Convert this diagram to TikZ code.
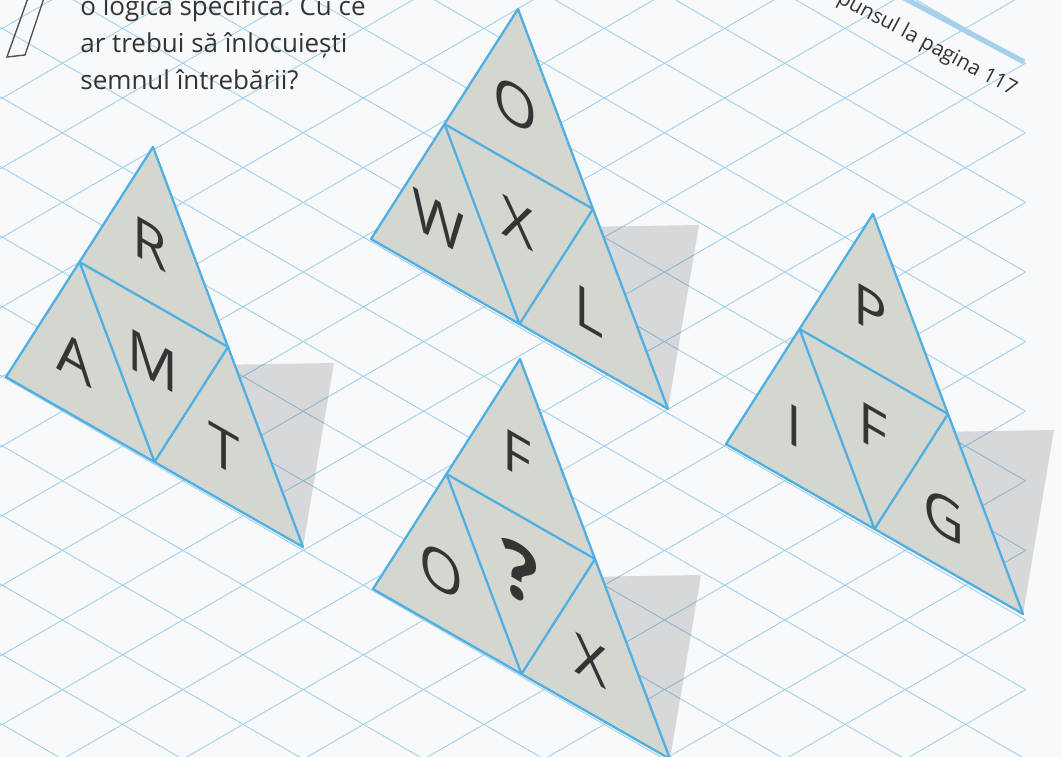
\documentclass[tikz,border=0pt]{standalone}
\usepackage{fontspec}
\setmainfont{Open Sans}
\usetikzlibrary{calc}
\definecolor{paper}{RGB}{248,249,251}
\definecolor{gridblue}{RGB}{160,208,236}
\definecolor{edgeblue}{RGB}{80,175,226}
\definecolor{cellgray}{RGB}{212,214,208}
\definecolor{inkgray}{RGB}{52,52,52}
\definecolor{bandblue}{RGB}{165,208,233}

\begin{document}
\begin{tikzpicture}[x=0.02cm, y=-0.02cm,
  gridline/.style={gridblue, line width=0.5pt},
  cell/.style={fill=cellgray, draw=edgeblue, line width=1.3pt, line join=round},
  cut/.style={edgeblue, line width=1.3pt, line join=round},
  shade/.style={fill=black, fill opacity=0.13},
  glyph/.style={text=inkgray, font=\fontsize{32}{32}\selectfont, yslant=-0.577, inner sep=0pt},
  prompt/.style={text=inkgray, font=\fontsize{14.8}{21}\selectfont, anchor=base west, inner sep=0pt}]
  % Pagina
  \clip (0,0) rectangle (1062,757);
  \fill[paper] (0,0) rectangle (1062,757);
  % Grila izometrica
  \begin{scope}
    \clip (0,0) rectangle (1025.6,757);
    \foreach \k in {-3,...,16}
      \draw[gridline] (0,{-390.5+69.6*\k}) -- (1062,{223.4+69.6*\k});
    \foreach \k in {-8,...,11}
      \draw[gridline] (0,{586.5+69.6*\k}) -- (1062,{-27.4+69.6*\k});
  \end{scope}
  % Enuntul
  \draw[inkgray!85, line width=0.8pt] (28,-2) -- (7,57) -- (25,55) -- (44,-2);
  \node[prompt] (line1) at (80,16) {o logică specifică. Cu ce};
  \node[prompt] (line2) at (80,53) {ar trebui să înlocuiești};
  \node[prompt] (line3) at (80,90) {semnul întrebării?};
  % Raspunsul (sus, dreapta)
  \draw[bandblue, line width=3pt] (895,-7) -- (1024,62);
  \node[text=inkgray, font=\fontsize{11.8}{14}\selectfont, rotate=-28, anchor=base east, inner sep=0pt]
    (answer) at (1013,96) {Răspunsul la pagina 117};
  % Triunghiurile
  \foreach \ax/\ay/\tn/\ta/\tb/\tc/\td in {153/147/ramt/R/A/M/T,
      518/9/owxl/O/W/X/L, 520/359/foqx/F/O/{\fontsize{44}{44}\selectfont\bfseries ?}/X,
      873/214/pifg/P/I/F/G}{
    \coordinate (\tn-a) at (\ax,\ay);
    \coordinate (\tn-l) at ($(\tn-a)+(-147,230)$);
    \coordinate (\tn-r) at ($(\tn-a)+(150,400)$);
    % umbra
    \fill[shade] ($(\tn-a)+(60,218)$) -- ($(\tn-a)+(181,216)$) -- (\tn-r) -- cycle;
    \draw[cell] (\tn-a) -- (\tn-l) -- (\tn-r) -- cycle;
    \draw[cut] ($(\tn-a)!0.5!(\tn-l)$) -- ($(\tn-a)!0.5!(\tn-r)$)
      -- ($(\tn-l)!0.5!(\tn-r)$) -- cycle;
    % literele
    \node[glyph] (\tn-top) at ($(\tn-a)+(-3,96)$) {\ta};
    \node[glyph] (\tn-left) at ($(\tn-a)+(-79,212)$) {\tb};
    \node[glyph] (\tn-mid) at ($(\tn-a)+(0,214)$) {\tc};
    \node[glyph] (\tn-right) at ($(\tn-a)+(71,302)$) {\td};
  }
\end{tikzpicture}
\end{document}
